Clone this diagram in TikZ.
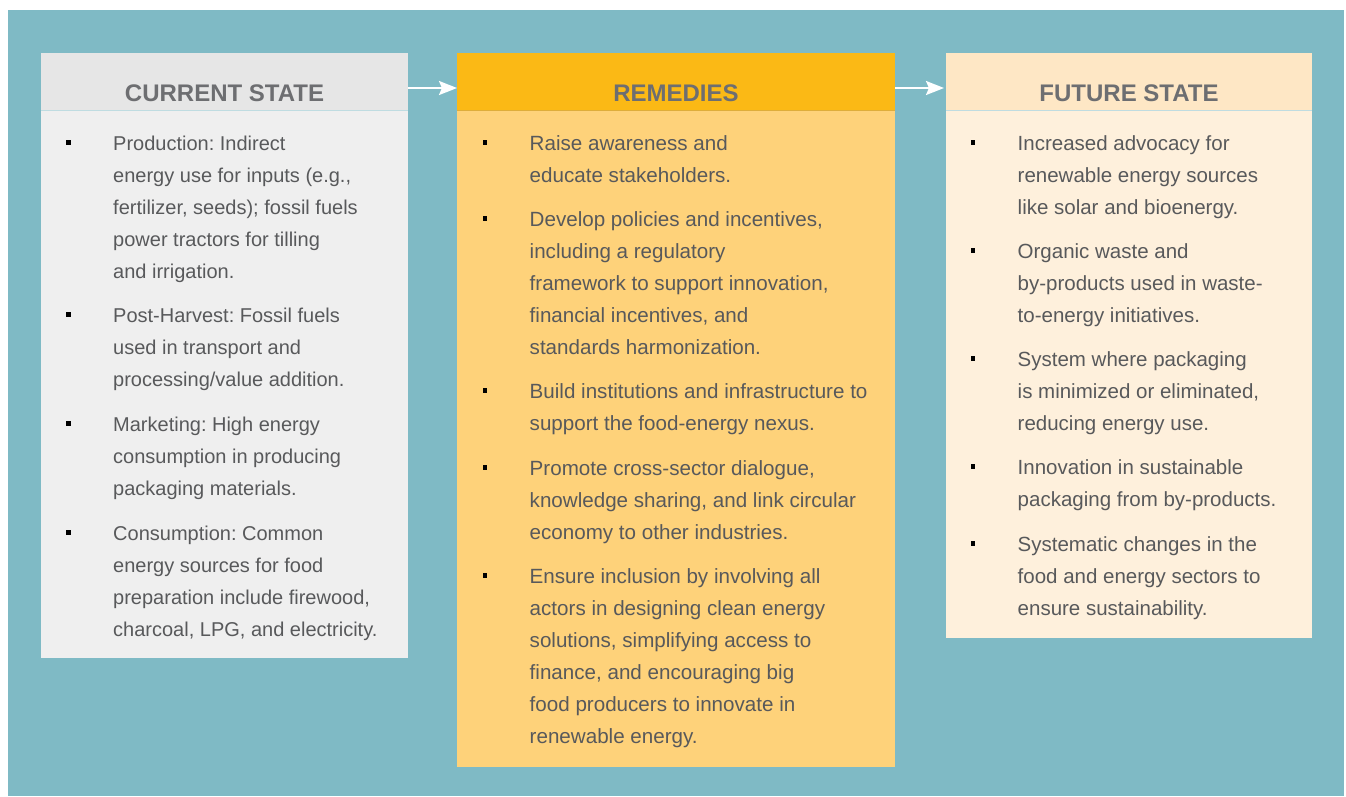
\documentclass[tikz,border=0pt]{standalone}
\usepackage{fontspec}
\setmainfont{Liberation Sans}
\usetikzlibrary{arrows.meta}
\frenchspacing
\definecolor{teal}{HTML}{7FBAC5}
\definecolor{lhead}{HTML}{E6E6E6}
\definecolor{lbody}{HTML}{EFEFEF}
\definecolor{mhead}{HTML}{FBB915}
\definecolor{mbody}{HTML}{FED27A}
\definecolor{rhead}{HTML}{FEE7C5}
\definecolor{rbody}{HTML}{FEF0DC}
\definecolor{htext}{HTML}{6D6E71}
\definecolor{btext}{HTML}{58595B}
\definecolor{sepline}{HTML}{BFDCE1}
\newcommand{\itemsz}{20pt}
\newcommand{\bitem}[4]{\node[itemtext,font=\fontsize{\itemsz}{32pt}\selectfont\frenchspacing] (#1) at (#2,#3) {\makebox[47pt][l]{\color{black}\rule[5.2pt]{4.6pt}{4.6pt}}\parbox[t]{360pt}{\raggedright #4}};}
\begin{document}
\begin{tikzpicture}[x=1pt,y=-1pt,
  itemtext/.style={anchor=base west,inner sep=0pt,text=btext},
  headtext/.style={anchor=base,inner sep=0pt,text=htext,font=\fontsize{24pt}{28pt}\selectfont\bfseries},
  sep/.style={draw=sepline,line width=1pt},
  arr/.style={draw=white,line width=2.4pt,-{Stealth[length=18pt,width=14pt,inset=3pt]}}]
\useasboundingbox (0,0) rectangle (1346,796);
\fill[white] (0,0) rectangle (1346,796);
\fill[teal] (8,10) rectangle (1344,796);
% panels
\fill[lbody] (41,110) rectangle (408,658);
\fill[lhead] (41,53) rectangle (408,110);
\fill[mbody] (457,110) rectangle (895,767);
\fill[mhead] (457,53) rectangle (895,110);
\fill[rbody] (946,110) rectangle (1312,638);
\fill[rhead] (946,53) rectangle (1312,110);
\draw[sep] (41,110) -- (408,110);
\draw[sep,draw=mhead!80!black!60!mbody] (457,110) -- (895,110);
\draw[sep] (946,110) -- (1312,110);
\coordinate (h1e) at (408,88);
\coordinate (h2w) at (457,88);
\coordinate (h2e) at (895,88);
\coordinate (h3w) at (944,88);
\draw[arr] (h1e) -- (h2w);
\draw[arr] (h2e) -- (h3w);
% headers
\node[headtext] (t1) at (224.5,101) {CURRENT STATE};
\node[headtext] (t2) at (676,101) {REMEDIES};
\node[headtext] (t3) at (1129,101) {FUTURE STATE};
% left column
\bitem{l1}{66}{150}{Production: Indirect\\energy use for inputs (e.g.,\\fertilizer, seeds); fossil fuels\\power tractors for tilling\\and irrigation.}
\bitem{l2}{66}{322}{Post-Harvest: Fossil fuels\\used in transport and\\processing/value addition.}
\bitem{l3}{66}{431}{Marketing: High energy\\consumption in producing\\packaging materials.}
\bitem{l4}{66}{540}{Consumption: Common\\energy sources for food\\preparation include firewood,\\charcoal, LPG, and electricity.}
% middle column
\renewcommand{\itemsz}{20.6pt}
\bitem{m1}{482.5}{150}{Raise awareness and\\educate stakeholders.}
\bitem{m2}{482.5}{226}{Develop policies and incentives,\\including a regulatory\\framework to support innovation,\\financial incentives, and\\standards harmonization.}
\bitem{m3}{482.5}{398}{Build institutions and infrastructure to\\support the food-energy nexus.}
\bitem{m4}{482.5}{475}{Promote cross-sector dialogue,\\knowledge sharing, and link circular\\economy to other industries.}
\bitem{m5}{482.5}{583}{Ensure inclusion by involving all\\actors in designing clean energy\\solutions, simplifying access to\\finance, and encouraging big\\food producers to innovate in\\renewable energy.}
% right column
\renewcommand{\itemsz}{20.5pt}
\bitem{r1}{970.5}{150}{Increased advocacy for\\renewable energy sources\\like solar and bioenergy.}
\bitem{r2}{970.5}{258}{Organic waste and\\by-products used in waste-\\to-energy initiatives.}
\bitem{r3}{970.5}{366}{System where packaging\\is minimized or eliminated,\\reducing energy use.}
\bitem{r4}{970.5}{474}{Innovation in sustainable\\packaging from by-products.}
\bitem{r5}{970.5}{551}{Systematic changes in the\\food and energy sectors to\\ensure sustainability.}
\end{tikzpicture}
\end{document}
